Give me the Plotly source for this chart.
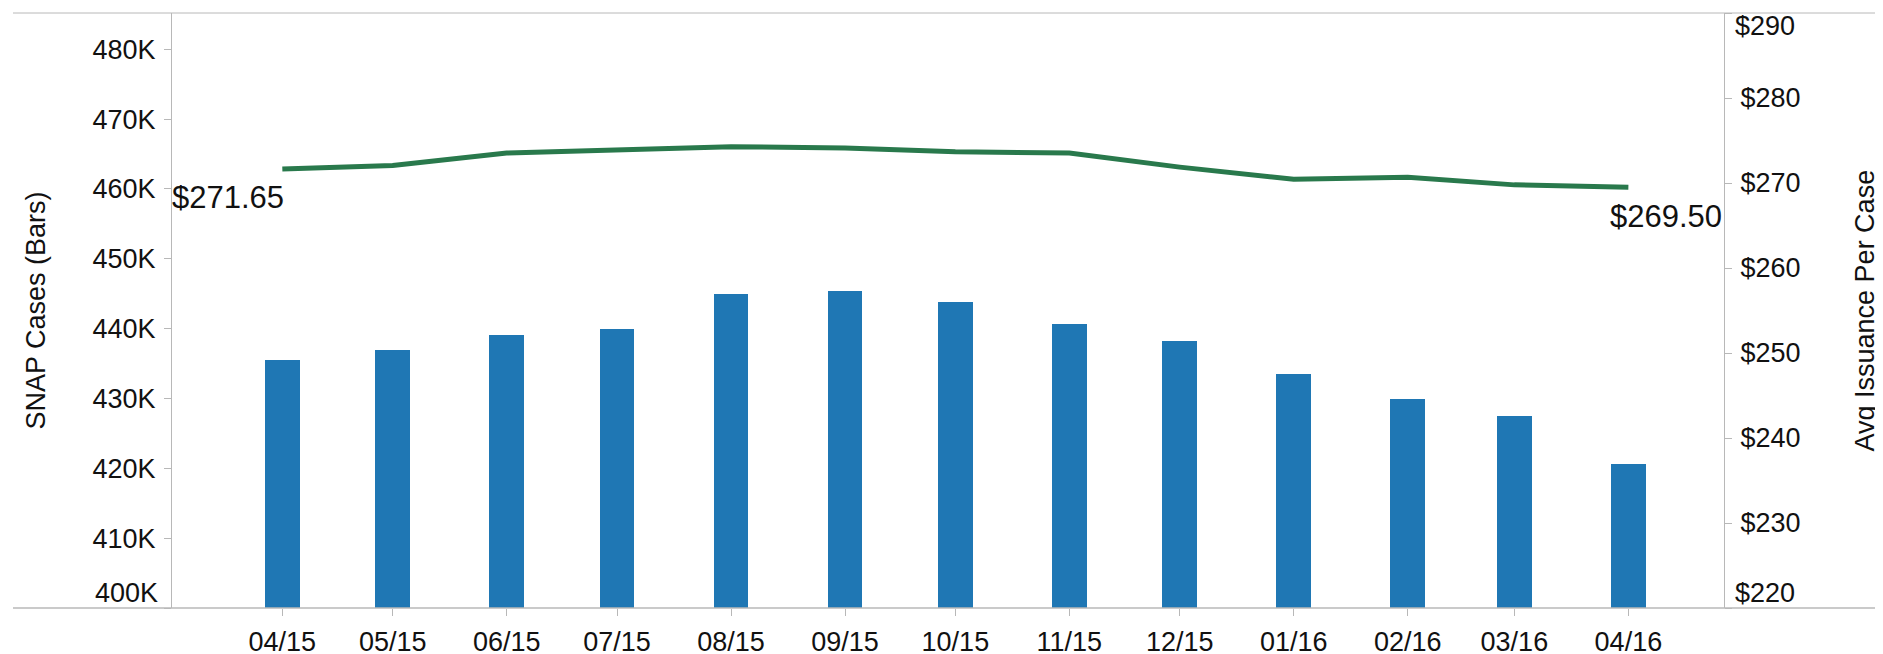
import plotly.graph_objects as go

# ---- data ----
months = ["2015-04-01", "2015-05-01", "2015-06-01", "2015-07-01", "2015-08-01",
          "2015-09-01", "2015-10-01", "2015-11-01", "2015-12-01", "2016-01-01",
          "2016-02-01", "2016-03-01", "2016-04-01"]
month_labels = ["04/15", "05/15", "06/15", "07/15", "08/15", "09/15", "10/15",
                "11/15", "12/15", "01/16", "02/16", "03/16", "04/16"]
snap_cases = [435500, 436900, 439050, 440000, 444950, 445450, 443800,
              440650, 438200, 433500, 429900, 427500, 420600]
avg_issuance = [271.65, 272.07, 273.53, 273.96, 274.27, 274.11, 273.67,
                273.53, 271.87, 270.44, 270.67, 269.78, 269.50]

left_ticks = [400000, 410000, 420000, 430000, 440000, 450000, 460000, 470000, 480000]
left_labels = ["400K", "410K", "420K", "430K", "440K", "450K", "460K", "470K", "480K"]
right_ticks = [220, 230, 240, 250, 260, 270, 280, 290]
right_labels = ["$220", "$230", "$240", "$250", "$260", "$270", "$280", "$290"]

first_label = "$271.65"
last_label = "$269.50"

# ---- style ----
FONT = "Liberation Sans, Arial, sans-serif"
BAR_COLOR = "#1f77b4"
LINE_COLOR = "#29794c"
AXIS_GRAY = "#b8b8b8"
TEXT = "#111111"
TICK_SIZE = 27

W, H = 1883, 654
ML, MR, MT, MB = 164, 167, 5, 46
PW = W - ML - MR

def px_to_paper_x(px):
    return (px - ML) / PW

fig = go.Figure()

fig.add_trace(go.Bar(
    x=months, y=snap_cases, marker=dict(color=BAR_COLOR, line=dict(width=0)),
    width=9.5 * 86400000, yaxis="y", name="SNAP Cases",
))
fig.add_trace(go.Scatter(
    x=months, y=avg_issuance, mode="lines", yaxis="y2",
    line=dict(color=LINE_COLOR, width=5), name="Avg Issuance",
))

left_text = [("" if v == left_ticks[0] else t) for v, t in zip(left_ticks, left_labels)]
right_text = [("" if v in (right_ticks[0], right_ticks[-1]) else t)
              for v, t in zip(right_ticks, right_labels)]

fig.update_layout(
    width=W, height=H,
    margin=dict(l=ML, r=MR, t=MT, b=MB),
    paper_bgcolor="white", plot_bgcolor="white",
    showlegend=False,
    font=dict(family=FONT, color=TEXT, size=TICK_SIZE),
    bargap=0,
    xaxis=dict(
        type="date", range=["2015-03-02", "2016-04-27"],
        tickmode="array", tickvals=months, ticktext=month_labels,
        ticks="outside", ticklen=7, tickcolor=AXIS_GRAY, tickwidth=1,
        showgrid=False, zeroline=False, showline=False,
        tickfont=dict(size=TICK_SIZE, color=TEXT), ticklabelstandoff=3,
    ),
    yaxis=dict(
        range=[400000, 485200],
        tickmode="array", tickvals=left_ticks, ticktext=left_text,
        ticks="outside", ticklen=7, tickcolor=AXIS_GRAY, tickwidth=1,
        showgrid=False, zeroline=False,
        showline=True, linecolor=AXIS_GRAY, linewidth=1,
        tickfont=dict(size=TICK_SIZE, color=TEXT), ticklabelstandoff=3,
    ),
    yaxis2=dict(
        overlaying="y", side="right", range=[220, 290],
        tickmode="array", tickvals=right_ticks, ticktext=right_text,
        ticks="outside", ticklen=7, tickcolor=AXIS_GRAY, tickwidth=1,
        showgrid=False, zeroline=False,
        showline=True, linecolor=AXIS_GRAY, linewidth=1,
        tickfont=dict(size=TICK_SIZE, color=TEXT), ticklabelstandoff=3,
    ),
)

annotations = []
# edge tick labels, kept inside the pane as in the original
annotations.append(dict(xref="paper", yref="y", x=0, y=left_ticks[0], text=left_labels[0],
                        xanchor="right", yanchor="bottom", xshift=-12, yshift=-2,
                        showarrow=False, font=dict(size=TICK_SIZE, color=TEXT)))
annotations.append(dict(xref="paper", yref="y2", x=1, y=right_ticks[0], text=right_labels[0],
                        xanchor="left", yanchor="bottom", xshift=9, yshift=-2,
                        showarrow=False, font=dict(size=TICK_SIZE, color=TEXT)))
annotations.append(dict(xref="paper", yref="y2", x=1, y=right_ticks[-1], text=right_labels[-1],
                        xanchor="left", yanchor="top", xshift=9, yshift=4,
                        showarrow=False, font=dict(size=TICK_SIZE, color=TEXT)))
# axis titles
annotations.append(dict(xref="paper", yref="paper", x=px_to_paper_x(27), y=0.5,
                        text="SNAP Cases (Bars)", textangle=-90, showarrow=False,
                        xanchor="center", yanchor="middle", font=dict(size=27, color=TEXT)))
annotations.append(dict(xref="paper", yref="paper", x=px_to_paper_x(1856), y=0.5,
                        text="Avg Issuance Per Case", textangle=-90, showarrow=False,
                        xanchor="center", yanchor="middle", font=dict(size=27, color=TEXT)))
# line end labels
annotations.append(dict(xref="x", yref="y2", x=months[0], y=avg_issuance[0], text=first_label,
                        xanchor="right", yanchor="top", xshift=4, yshift=-9,
                        showarrow=False, font=dict(size=31, color=TEXT)))
annotations.append(dict(xref="x", yref="y2", x=months[-1], y=avg_issuance[-1], text=last_label,
                        xanchor="left", yanchor="top", xshift=-20, yshift=-10,
                        showarrow=False, font=dict(size=31, color=TEXT)))
fig.update_layout(annotations=annotations)

# pane border lines (top and bottom) spanning the whole width
x0 = px_to_paper_x(5)
x1 = px_to_paper_x(1876)
fig.add_shape(type="line", xref="paper", yref="paper", x0=x0, x1=x1, y0=1, y1=1,
              line=dict(color=AXIS_GRAY, width=1))
fig.add_shape(type="line", xref="paper", yref="paper", x0=x0, x1=x1, y0=0, y1=0,
              line=dict(color=AXIS_GRAY, width=1.5))

fig.write_html("out.html")
